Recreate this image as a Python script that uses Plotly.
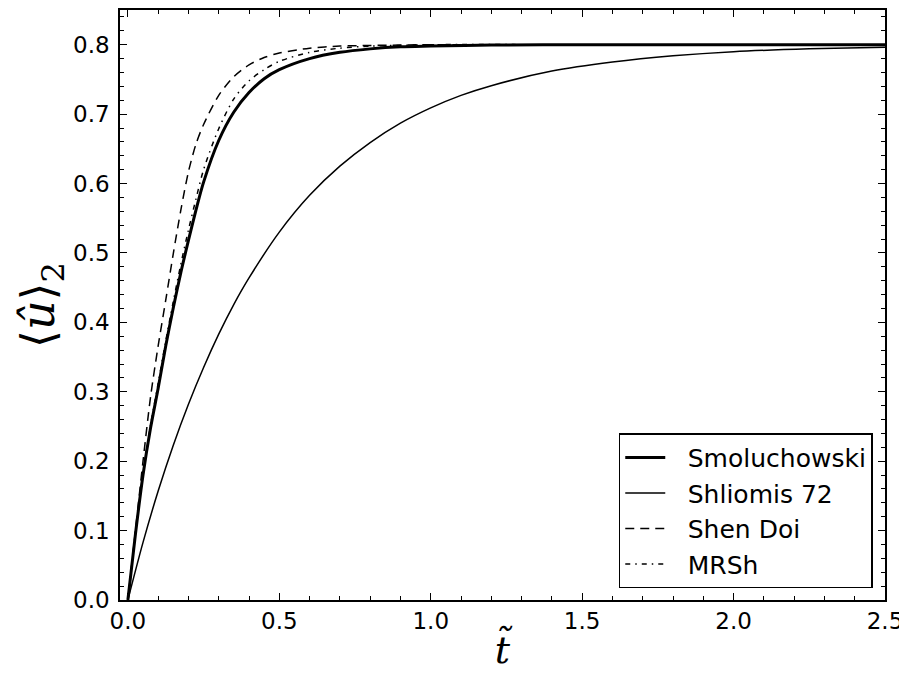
import plotly.graph_objects as go

# time grid (t~) and read-off values of <u>_2
t_smol = [0, 0.025, 0.05, 0.075, 0.1, 0.125, 0.15, 0.175, 0.2, 0.225, 0.25, 0.3, 0.35, 0.4, 0.45,
          0.5, 0.6, 0.7, 0.8, 0.9, 1.0, 1.2, 1.5, 2.0, 2.5]
u_smol = [0, 0.095, 0.180, 0.248, 0.305, 0.366, 0.421, 0.472, 0.518, 0.562, 0.602, 0.662, 0.703,
          0.731, 0.751, 0.764, 0.780, 0.789, 0.794, 0.797, 0.798, 0.7995, 0.80, 0.80, 0.80]

t_shl = [0, 0.05, 0.1, 0.15, 0.2, 0.25, 0.3, 0.35, 0.4, 0.5, 0.6, 0.7, 0.8, 0.9, 1.0, 1.1, 1.2,
         1.4, 1.6, 1.8, 2.0, 2.25, 2.5]
u_shl = [0, 0.083, 0.157, 0.223, 0.282, 0.335, 0.383, 0.426, 0.464, 0.530, 0.583, 0.625, 0.659,
         0.687, 0.709, 0.727, 0.741, 0.762, 0.775, 0.784, 0.790, 0.794, 0.7965]

t_sd = [0, 0.025, 0.05, 0.075, 0.1, 0.125, 0.15, 0.175, 0.2, 0.225, 0.25, 0.3, 0.35, 0.4, 0.45,
        0.5, 0.6, 0.7, 0.8, 0.9, 1.0, 1.5, 2.0, 2.5]
u_sd = [0, 0.100, 0.200, 0.293, 0.366, 0.432, 0.499, 0.562, 0.617, 0.657, 0.685, 0.727, 0.754,
        0.771, 0.7815, 0.788, 0.795, 0.798, 0.799, 0.7995, 0.80, 0.80, 0.80, 0.80]

t_mrsh = [0, 0.025, 0.05, 0.075, 0.1, 0.125, 0.15, 0.175, 0.2, 0.225, 0.25, 0.3, 0.35, 0.4, 0.45,
          0.5, 0.6, 0.7, 0.8, 0.9, 1.0, 1.5, 2.0, 2.5]
u_mrsh = [0, 0.096, 0.182, 0.252, 0.312, 0.373, 0.430, 0.484, 0.533, 0.578, 0.620, 0.679, 0.722,
          0.748, 0.764, 0.776, 0.789, 0.795, 0.798, 0.799, 0.80, 0.80, 0.80, 0.80]

names = ["Smoluchowski", "Shliomis 72", "Shen Doi", "MRSh"]
pad = "\u2002\u2009"

fig = go.Figure()
fig.add_trace(go.Scatter(x=t_smol, y=u_smol, mode="lines", name=pad + names[0], legendgroup="a",
                         line=dict(color="black", width=3, shape="spline", smoothing=0.8)))
fig.add_trace(go.Scatter(x=t_shl, y=u_shl, mode="lines", name=pad + names[1], legendgroup="b",
                         line=dict(color="black", width=1.5, shape="spline", smoothing=0.8)))
fig.add_trace(go.Scatter(x=t_sd, y=u_sd, mode="lines", name=pad + names[2], legendgroup="c",
                         line=dict(color="black", width=1.5, dash="9px,6px", shape="spline", smoothing=0.8)))
fig.add_trace(go.Scatter(x=t_mrsh, y=u_mrsh, mode="lines", name=pad + names[3], legendgroup="d",
                         line=dict(color="black", width=1.5, dash="5px,5px,1.5px,5px", shape="spline", smoothing=0.8)))

axis_common = dict(
    showgrid=False, zeroline=False, showline=True, linecolor="black", linewidth=1.5,
    mirror="allticks", ticks="inside", ticklen=7, tickwidth=1.2, tickcolor="black",
    tickfont=dict(family="DejaVu Sans", size=23, color="black"),
)

fig.update_xaxes(range=[-0.026, 2.5], tick0=0, dtick=0.5, tickformat=".1f",
                 minor=dict(ticks="inside", dtick=0.1, ticklen=4, tickwidth=1, tickcolor="black"),
                 title=dict(text="<i>t̃</i>", font=dict(family="DejaVu Serif", size=38, color="black"), standoff=3),
                 ticklabelstandoff=0,
                 **axis_common)
fig.update_yaxes(range=[0, 0.85], tick0=0, dtick=0.1, tickformat=".1f",
                 minor=dict(ticks="inside", dtick=0.02, ticklen=4, tickwidth=1, tickcolor="black"),
                 title=dict(text="⟨<i>û</i>⟩<sub>2</sub>", font=dict(family="DejaVu Serif", size=46, color="black"), standoff=4),
                 ticklabelstandoff=4,
                 **axis_common)

fig.update_layout(
    width=907, height=677,
    margin=dict(l=112, r=30, t=0, b=85),
    plot_bgcolor="white", paper_bgcolor="white",
    legend=dict(x=0.984, y=0.02, xanchor="right", yanchor="bottom",
                bordercolor="black", borderwidth=1.5, bgcolor="white",
                font=dict(family="DejaVu Sans", size=25, color="black"),
                tracegroupgap=0, itemwidth=40),
)

fig.write_html("out.html")
